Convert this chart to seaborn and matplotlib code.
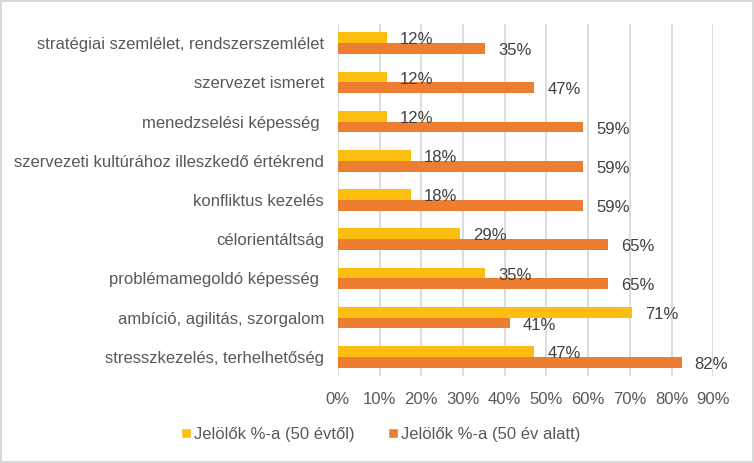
import pandas as pd
import matplotlib
matplotlib.use("Agg")
import matplotlib.pyplot as plt
import seaborn as sns
from matplotlib.patches import Patch
from matplotlib.ticker import FuncFormatter

sns.set_style("white")
plt.rcParams['font.family'] = ['Liberation Sans', 'DejaVu Sans']

# ---------------- DATA ---------------- #
categories = [
    "stratégiai szemlélet, rendszerszemlélet",
    "szervezet ismeret",
    "menedzselési képesség ",
    "szervezeti kultúrához illeszkedő értékrend",
    "konfliktus kezelés",
    "célorientáltság",
    "problémamegoldó képesség ",
    "ambíció, agilitás, szorgalom",
    "stresszkezelés, terhelhetőség",
]
over50 = [11.8, 11.8, 11.8, 17.6, 17.6, 29.4, 35.3, 70.6, 47.1]
under50 = [35.3, 47.1, 58.8, 58.8, 58.8, 64.7, 64.7, 41.2, 82.4]
series = ["Jelölők %-a (50 évtől)", "Jelölők %-a (50 év alatt)"]
colors = ["#FCBF10", "#ED7D31"]
xticks = [0, 10, 20, 30, 40, 50, 60, 70, 80, 90]

df = pd.DataFrame({
    "kat": categories * 2,
    "val": over50 + under50,
    "csoport": [series[0]] * len(categories) + [series[1]] * len(categories),
})

# ---------------- PLOT ---------------- #
fig = plt.figure(figsize=(7.54, 4.63), dpi=100)
fig.patch.set_edgecolor("#D9D9D9")
fig.patch.set_linewidth(1.5)
ax = fig.add_axes([0.448, 0.187, 0.498, 0.762])

sns.barplot(data=df, y="kat", x="val", hue="csoport", hue_order=series,
            palette=colors, orient="h", width=0.55, gap=0, saturation=1,
            linewidth=0, legend=False, ax=ax)

ax.set_xlim(0, 90)
ax.set_xticks(xticks)
ax.xaxis.set_major_formatter(FuncFormatter(lambda v, p: f"{v:.0f}%"))
ax.grid(axis="x", color="#D9D9D9", linewidth=1.3)
ax.set_axisbelow(True)
for s in ax.spines.values():
    s.set_visible(False)
ax.tick_params(axis="both", length=0, labelsize=12, labelcolor="#595959")
ax.tick_params(axis="x", pad=11)
ax.tick_params(axis="y", pad=10)
ax.set_xlabel("")
ax.set_ylabel("")

# adatfeliratok
for cont in ax.containers:
    for bar in cont:
        w = bar.get_width()
        ax.annotate(f"{w:.0f}%", (w, bar.get_y() + bar.get_height() / 2),
                    xytext=(13, -2), textcoords="offset pixels",
                    va="center", ha="left", fontsize=12, color="#404040")

handles = [Patch(facecolor=c, label=s) for c, s in zip(colors, series)]
fig.legend(handles=handles, loc="center", bbox_to_anchor=(0.505, 0.062), ncol=2,
           frameon=False, fontsize=12, labelcolor="#595959", handlelength=0.6,
           handleheight=0.6, handletextpad=0.2, columnspacing=2.0)

fig.savefig("out.png", dpi=100)
